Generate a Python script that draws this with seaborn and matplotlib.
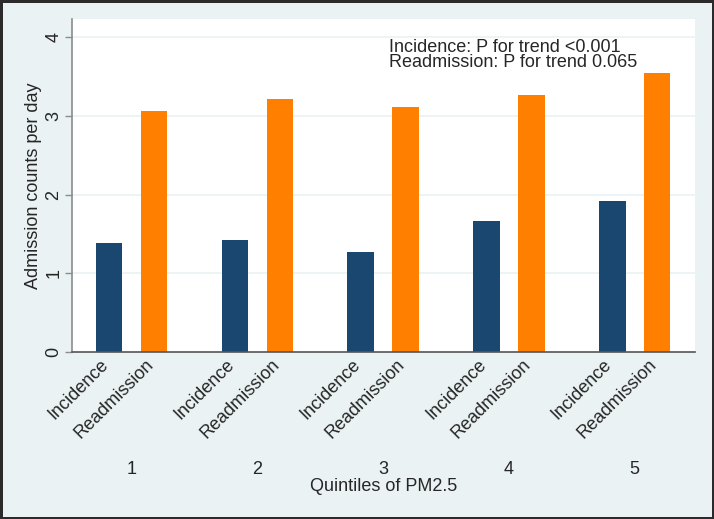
import pandas as pd
import matplotlib.pyplot as plt
import matplotlib.transforms as mtransforms
import seaborn as sns

# ==========================================================
# Data
# ==========================================================

quintiles = ["1", "2", "3", "4", "5"]
series = ["Incidence", "Readmission"]
incidence = [1.38, 1.42, 1.27, 1.66, 1.92]
readmission = [3.06, 3.21, 3.11, 3.26, 3.54]
y_ticks = [0, 1, 2, 3, 4]
trend_notes = ["Incidence: P for trend <0.001",
               "Readmission: P for trend 0.065"]

df = pd.DataFrame({
    "Quintile": quintiles * 2,
    "Type": [series[0]] * 5 + [series[1]] * 5,
    "Count": incidence + readmission,
})

# ==========================================================
# Style
# ==========================================================

sns.set_style("white")
plt.rcParams["font.family"] = ["Liberation Sans", "DejaVu Sans"]

bg = "#EAF2F3"
navy = "#1A476F"
orange = "#FF8000"

fig = plt.figure(figsize=(7.14, 5.19), dpi=100, facecolor=bg)
fig.patch.set_edgecolor("#2b2b2b")
fig.patch.set_linewidth(2.5)
ax = fig.add_axes([72 / 714, 1 - 352 / 519, 623 / 714, 333 / 519])
ax.set_facecolor("white")

sns.barplot(
    data=df,
    x="Quintile",
    y="Count",
    hue="Type",
    hue_order=series,
    palette=[navy, orange],
    width=0.714,
    gap=0.41,
    saturation=1,
    linewidth=0,
    errorbar=None,
    legend=False,
    ax=ax,
)

ax.set_xlim(-0.473, 4.479)
ax.set_ylim(0, 4.23)

# grid
for t in y_ticks[1:]:
    ax.axhline(t, color=bg, lw=1.2, zorder=0)

# spines
for s in ["top", "right"]:
    ax.spines[s].set_visible(False)
ax.spines["left"].set_color("#8c8c8c")
ax.spines["bottom"].set_color("#555555")
ax.spines["left"].set_linewidth(1.2)
ax.spines["bottom"].set_linewidth(1.2)

# y axis
ax.set_yticks(y_ticks)
ax.tick_params(axis="y", length=5, width=1, color="#8c8c8c", pad=2,
               labelsize=13, left=True)
for lab in ax.get_yticklabels():
    lab.set_rotation(90)
    lab.set_va("center")

ax.set_ylabel("Admission counts per day", fontsize=13)
ax.yaxis.label.set_va("center")
ax.yaxis.set_label_coords(-38 / 623, 0.5)

# x axis: bar labels under each bar, group numbers, title
ax.set_xticks([])
ax.set_xlabel("")
bars = sorted(ax.patches, key=lambda p: p.get_x())
offset = mtransforms.ScaledTranslation(-3 / 100, -10 / 100, fig.dpi_scale_trans)
for i, p in enumerate(bars):
    xc = p.get_x() + p.get_width() / 2
    ax.text(xc, 0, series[i % 2], fontsize=13, rotation=45,
            ha="right", va="center", rotation_mode="anchor",
            transform=ax.get_xaxis_transform() + offset)

for i, q in enumerate(quintiles):
    ax.text(i, -122 / 333, q, fontsize=13, ha="center", va="baseline",
            transform=ax.get_xaxis_transform())

ax.text(0.5, -139 / 333, "Quintiles of PM2.5", fontsize=13,
        ha="center", va="baseline", transform=ax.transAxes)

# trend annotation (one text block, tight line spacing)
ax.text(2.047, 3.614, "\n".join(trend_notes), fontsize=13,
        ha="left", va="baseline", linespacing=0.85)

plt.savefig("out.png", dpi=100, facecolor=bg)
